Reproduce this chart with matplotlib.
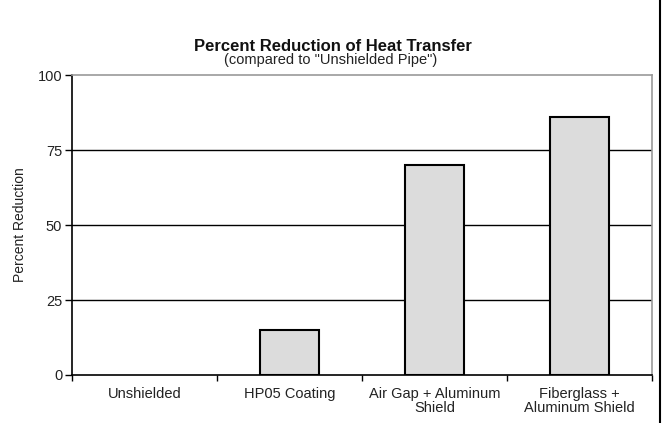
import numpy as np
import matplotlib.pyplot as plt
from matplotlib.lines import Line2D

plt.rcParams['font.family'] = ['Liberation Sans', 'DejaVu Sans']
plt.rcParams['text.color'] = '#222222'

categories = ['Unshielded', 'HP05 Coating', 'Air Gap + Aluminum\nShield', 'Fiberglass +\nAluminum Shield']
values = [0, 15, 70, 86]
yticks = [0, 25, 50, 75, 100]

fig = plt.figure(figsize=(6.66, 4.23), dpi=100)
ax = fig.add_axes([0.108, 0.1135, 0.871, 0.709])

x = np.arange(len(categories))
# zero-height bar shows no outline in the original
edges = ['black' if v > 0 else 'none' for v in values]
ax.bar(x, values, width=0.41, color='#dcdcdc', edgecolor=edges, linewidth=1.5, zorder=3)

ax.set_xlim(-0.5, len(categories) - 0.5)
ax.set_ylim(0, 100)
ax.set_yticks(yticks)
ax.set_yticklabels([str(v) for v in yticks], fontsize=10.5, color='#222222')
ax.set_xticks(x)
ax.set_xticklabels(categories, fontsize=10.5, color='#222222', linespacing=1.0)
ax.tick_params(axis='x', length=0, pad=9)
# category boundary ticks
ax.set_xticks(np.arange(len(categories) + 1) - 0.5, minor=True)
ax.tick_params(axis='x', which='minor', length=4, width=1, direction='out')
ax.tick_params(axis='y', length=5, width=1, direction='out', pad=2)

for v in [25, 50, 75]:
    ax.axhline(v, color='black', linewidth=1.0, zorder=1)

for s in ['left', 'bottom']:
    ax.spines[s].set_color('black')
    ax.spines[s].set_linewidth(1.2)
for s in ['top', 'right']:
    ax.spines[s].set_color('#999999')
    ax.spines[s].set_linewidth(1.2)

ax.set_ylabel('Percent Reduction', fontsize=10, color='#222222')
ax.yaxis.set_label_coords(-0.078, 0.5)

fig.text(0.5, 0.891, 'Percent Reduction of Heat Transfer', ha='center', va='center',
         fontsize=12, fontweight='bold', color='#111111')
fig.text(0.497, 0.858, '(compared to "Unshielded Pipe")', ha='center', va='center', fontsize=10.5,
         color='#222222')

# page edge on the right
fig.add_artist(Line2D([0.991, 0.991], [0, 1], color='black', linewidth=1.5, transform=fig.transFigure))

fig.savefig('out.png', dpi=100)
